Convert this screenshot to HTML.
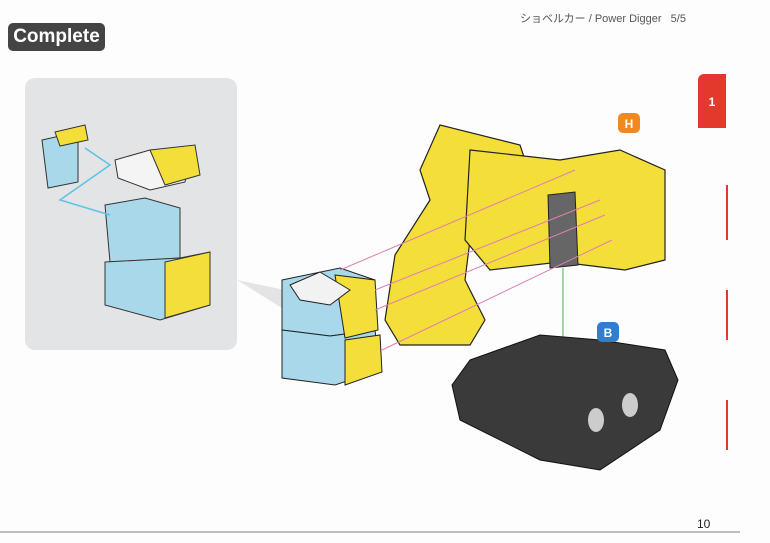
<!DOCTYPE html>
<html><head><meta charset="utf-8"><style>
body{margin:0;width:770px;height:543px;background:#fdfdfd;overflow:hidden;font-family:"Liberation Sans","Noto Sans CJK JP",sans-serif;position:relative}
.badge{position:absolute;left:8px;top:23px;width:97px;height:28px;background:#444;border-radius:5px;color:#fff;font-weight:bold;font-size:19px;line-height:28px;text-align:center}
.hdr{position:absolute;left:520px;top:10px;font-size:11px;color:#555}
.tab{position:absolute;left:698px;top:74px;width:28px;height:54px;background:#e2392c;border-radius:6px 0 0 0;color:#fff;font-weight:bold;font-size:12px;text-align:center;line-height:56px}
.pn{position:absolute;left:697px;top:517px;font-size:12px;color:#222}
</style></head><body>
<div class="badge">Complete</div>
<div class="hdr">ショベルカー / Power Digger&nbsp;&nbsp; 5/5</div>
<div class="tab">1</div>
<svg width="770" height="543" style="position:absolute;left:0;top:0">
<rect x="25" y="78" width="212" height="272" rx="10" fill="#e3e4e6"/>
<polygon points="237,280 285,310 285,290" fill="#e3e4e6"/>
<!-- left panel blocks -->
<polygon points="42,140 78,132 78,182 48,188" fill="#a9d8ea" stroke="#333"/>
<polygon points="55,132 85,125 88,140 60,146" fill="#f4de3a" stroke="#333"/>
<polygon points="115,160 150,150 190,158 185,182 150,190 118,178" fill="#f4f4f4" stroke="#333"/>
<polygon points="150,150 195,145 200,175 165,185" fill="#f4de3a" stroke="#333"/>
<polygon points="105,205 145,198 180,208 180,258 110,262" fill="#a9d8ea" stroke="#333"/>
<polygon points="105,262 180,258 210,252 210,305 160,320 105,305" fill="#a9d8ea" stroke="#333"/>
<polygon points="165,262 210,252 210,305 165,318" fill="#f4de3a" stroke="#333"/>
<polyline points="85,148 110,165 60,200 110,215" fill="none" stroke="#5bc3e3" stroke-width="1.5"/>
<!-- center block -->
<polygon points="282,280 340,268 375,280 375,330 330,336 282,330" fill="#a9d8ea" stroke="#222"/>
<polygon points="282,330 330,336 375,330 380,370 335,385 282,378" fill="#a9d8ea" stroke="#222"/>
<polygon points="335,275 375,280 378,330 345,338" fill="#f4de3a" stroke="#222"/>
<polygon points="345,340 380,335 382,372 345,385" fill="#f4de3a" stroke="#222"/>
<polygon points="290,285 320,272 350,290 330,305 300,300" fill="#f2f2f2" stroke="#222"/>
<!-- yellow arm -->
<polygon points="440,125 520,145 530,175 495,200 470,240 465,280 485,320 470,345 400,345 385,320 395,255 430,200 420,170" fill="#f4de3a" stroke="#222" stroke-width="1.2"/>
<polygon points="470,150 560,160 620,150 665,170 665,260 625,270 560,262 490,270 465,240" fill="#f4de3a" stroke="#222" stroke-width="1.2"/>
<polygon points="548,195 575,192 578,265 550,268" fill="#666" stroke="#222"/>
<g stroke="#e07fb0" stroke-width="1"><line x1="340" y1="270" x2="575" y2="170"/><line x1="375" y1="290" x2="600" y2="200"/><line x1="375" y1="310" x2="605" y2="215"/><line x1="382" y1="350" x2="612" y2="240"/></g>
<line x1="563" y1="268" x2="563" y2="345" stroke="#4bb04b"/>
<!-- dark base -->
<polygon points="470,360 540,335 600,340 665,350 678,380 660,430 600,470 540,460 460,420 452,385" fill="#3a3a3a" stroke="#111"/>
<ellipse cx="596" cy="420" rx="8" ry="12" fill="#ccc"/><ellipse cx="630" cy="405" rx="8" ry="12" fill="#ccc"/>
<!-- H/B badges -->
<rect x="618" y="113" width="22" height="20" rx="5" fill="#ee8a22"/><text x="629" y="128" fill="#fff" font-size="12" font-weight="bold" text-anchor="middle" font-family="Liberation Sans">H</text>
<rect x="597" y="322" width="22" height="20" rx="5" fill="#2f7fd0"/><text x="608" y="337" fill="#fff" font-size="12" font-weight="bold" text-anchor="middle" font-family="Liberation Sans">B</text>
<g stroke="#e2392c" stroke-width="2"><line x1="727" y1="185" x2="727" y2="240"/><line x1="727" y1="290" x2="727" y2="340"/><line x1="727" y1="400" x2="727" y2="450"/></g>
<line x1="0" y1="532" x2="740" y2="532" stroke="#aaa" stroke-width="1.5"/>
</svg>
<div class="pn">10</div>
</body></html>
